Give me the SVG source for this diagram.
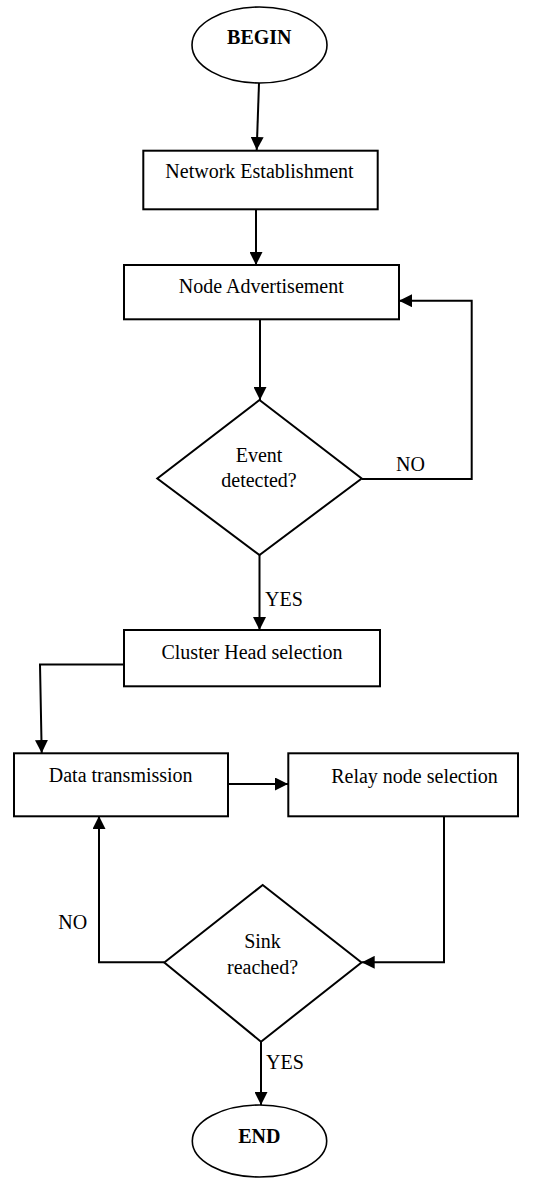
<svg xmlns="http://www.w3.org/2000/svg" width="534" height="1178" viewBox="0 0 534 1178">
<style>
.shape{fill:#fff;stroke:#000;stroke-width:2}
.oval{fill:#fff;stroke:#000;stroke-width:1.6}
.t{font-family:"Liberation Serif","Times New Roman",serif;font-size:20px;fill:#000}
.c{text-anchor:middle}
.b{font-weight:bold}
.ln{fill:none;stroke:#000;stroke-width:2}
</style>
<defs>
<marker id="arr" markerWidth="13" markerHeight="13" viewBox="0 0 13 13" refX="13" refY="6.5" orient="auto" markerUnits="userSpaceOnUse">
<path d="M0,0 L13,6.5 L0,13 Z" fill="#000"/>
</marker>
</defs>
<g id="connectors">
<line class="ln" x1="259" y1="83" x2="256.7" y2="150" marker-end="url(#arr)"/>
<line class="ln" x1="256" y1="209" x2="256" y2="265" marker-end="url(#arr)"/>
<line class="ln" x1="260" y1="319" x2="260" y2="400" marker-end="url(#arr)"/>
<polyline class="ln" points="361.7,479 471.7,479 471.7,300.7 399,300.7" marker-end="url(#arr)"/>
<line class="ln" x1="259.5" y1="555" x2="259.5" y2="630" marker-end="url(#arr)"/>
<polyline class="ln" points="124,664.5 40,664.5 41.7,753" marker-end="url(#arr)"/>
<line class="ln" x1="228" y1="784" x2="288" y2="784" marker-end="url(#arr)"/>
<polyline class="ln" points="444,816 444,962.3 361.7,962.3" marker-end="url(#arr)"/>
<polyline class="ln" points="164.3,962.3 99,962.3 99,816" marker-end="url(#arr)"/>
<line class="ln" x1="261" y1="1042" x2="261" y2="1105" marker-end="url(#arr)"/>
<text class="t" x="396" y="470.7">NO</text>
<text class="t" x="265" y="606.3">YES</text>
<text class="t" x="58.3" y="929">NO</text>
<text class="t" x="266" y="1069.3">YES</text>
</g>
<g id="begin">
<ellipse class="oval" cx="259.5" cy="45" rx="67.5" ry="38"/>
<text class="t c b" x="259.3" y="44.3">BEGIN</text>
</g>
<g id="network">
<rect class="shape" x="143.3" y="150.7" width="234.4" height="58.6"/>
<text class="t c" x="259.5" y="178.3">Network Establishment</text>
</g>
<g id="advert">
<rect class="shape" x="124" y="265" width="275" height="54.3"/>
<text class="t c" x="261.3" y="293.3">Node Advertisement</text>
</g>
<g id="event">
<polygon class="shape" points="259.5,400 361.7,478.5 259.5,555 157.3,478.5"/>
<text class="t c" x="259" y="461.7">Event</text>
<text class="t c" x="259" y="486.7">detected?</text>
</g>
<g id="cluster">
<rect class="shape" x="124" y="630" width="256" height="56.3"/>
<text class="t c" x="252" y="659">Cluster Head selection</text>
</g>
<g id="data">
<rect class="shape" x="14" y="753.3" width="214" height="63"/>
<text class="t c" x="120.7" y="781.7">Data transmission</text>
</g>
<g id="relay">
<rect class="shape" x="288.3" y="753.3" width="229.7" height="63"/>
<text class="t c" x="414.5" y="783.3">Relay node selection</text>
</g>
<g id="sink">
<polygon class="shape" points="262.7,885 361.5,962.5 261,1041.7 164.3,962.5"/>
<text class="t c" x="262.5" y="948.3">Sink</text>
<text class="t c" x="262.5" y="974">reached?</text>
</g>
<g id="end">
<ellipse class="oval" cx="259.5" cy="1141" rx="67.2" ry="36"/>
<text class="t c b" x="259.3" y="1142.7">END</text>
</g>
</svg>
